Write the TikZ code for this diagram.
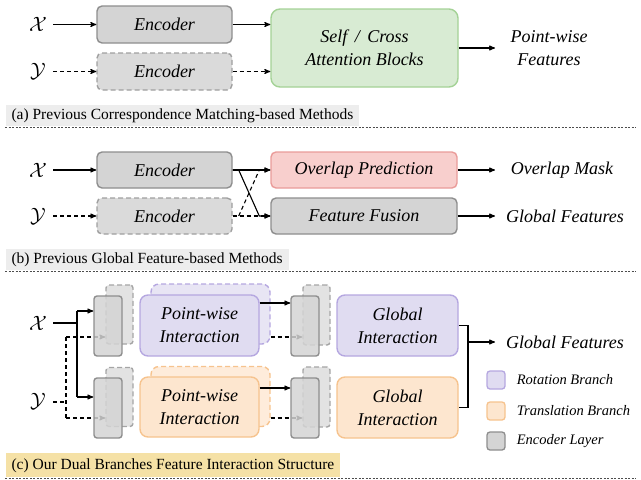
\documentclass[tikz,border=0pt]{standalone}
\usepackage{amsmath,amssymb}
\usepackage{fontspec}
\setmainfont{Liberation Serif}
\usepackage{xcolor}
\usepackage{tikz}
\usetikzlibrary{arrows}

\definecolor{encfill}{HTML}{D4D4D4}
\definecolor{encline}{HTML}{8E8E8E}
\definecolor{attnfill}{HTML}{D8EBD3}
\definecolor{attnline}{HTML}{A4D296}
\definecolor{ovlfill}{HTML}{F8CFCD}
\definecolor{ovlline}{HTML}{EA9C9A}
\definecolor{rotfill}{HTML}{E0DCF1}
\definecolor{rotline}{HTML}{B5A7E0}
\definecolor{trafill}{HTML}{FDE6CF}
\definecolor{traline}{HTML}{F6C38E}
\definecolor{capgray}{HTML}{EDEDED}
\definecolor{capyellow}{HTML}{F5E1A6}

\newcommand{\boxfont}{\fontsize{18}{23}\selectfont\itshape}
\newcommand{\capfont}{\fontsize{15.5}{17}\selectfont}
\newcommand{\legfont}{\fontsize{14.5}{16}\selectfont\itshape}
\newcommand{\symfont}{\fontsize{22}{24}\selectfont}

\begin{document}
\begin{tikzpicture}[x=1pt, y=-1pt, ->, >=stealth', line width=1.1pt]

	\tikzstyle{encbox}=[draw=encline, fill=encfill, rounded corners=5pt, line width=1.4pt, minimum width=135pt, minimum height=37pt, font=\boxfont, align=center]
	\tikzstyle{dencbox}=[encbox, dash pattern=on 5pt off 3pt, draw=encline!85, fill=encfill!85]
	\tikzstyle{bigbox}=[encbox, minimum width=186pt]
	\tikzstyle{layfront}=[draw=encline, fill=encfill, fill opacity=0.85, rounded corners=3pt, line width=1.4pt, minimum width=28pt, minimum height=60pt]
	\tikzstyle{layback}=[layfront, dash pattern=on 5pt off 3pt, draw=encline!80, fill=encfill!80]
	\tikzstyle{pwbox}=[rounded corners=8pt, line width=1.4pt, minimum width=119pt, minimum height=61pt, font=\boxfont, align=center]
	\tikzstyle{glbox}=[pwbox, minimum width=121pt]
	\tikzstyle{capbox}=[anchor=west, inner xsep=6pt, minimum height=21pt, text height=11pt, text depth=3pt, font=\capfont]
	\tikzstyle{legsq}=[rounded corners=3pt, line width=1.3pt, minimum size=18pt]
	\tikzstyle{legtxt}=[anchor=west, font=\legfont]
	\tikzstyle{outtxt}=[font=\boxfont, align=center]
	\tikzstyle{sep}=[-, draw=black!70, line width=0.6pt, dash pattern=on 2pt off 1.5pt]
	\tikzstyle{dline}=[dash pattern=on 4pt off 3pt]

	\useasboundingbox (0,0) rectangle (641,480);

	% (a) correspondence matching
	\node[font=\symfont] (xa) at (38,24) {$\mathcal{X}$};
	\node[font=\symfont] (ya) at (38,71) {$\mathcal{Y}$};
	\node[encbox] (encA1) at (164.5,24.5) {Encoder};
	\node[dencbox] (encA2) at (164.5,71.5) {Encoder};
	\node[encbox, draw=attnline, fill=attnfill, minimum width=187pt, minimum height=78pt, rounded corners=9pt] (attn) at (364.5,48) {Self \,/\, Cross\\Attention Blocks};
	\node[outtxt] (outA) at (549,48) {Point-wise\\Features};

	\draw (53,0 |- encA1) -- (encA1.west);
	\draw[dline] (53,0 |- encA2) -- (encA2.west);
	\draw (encA1.east) -- (encA1.east -| attn.west);
	\draw[dline] (encA2.east) -- (encA2.east -| attn.west);
	\draw (attn.east) -- (outA.west -| 495,0);

	\node[capbox, fill=capgray] (capA) at (5,115) {(a) Previous Correspondence Matching-based Methods};
	\draw[sep] (5,127) -- (636,127);

	% (b) global feature
	\node[font=\symfont] (xb) at (38,170) {$\mathcal{X}$};
	\node[font=\symfont] (yb) at (38,216) {$\mathcal{Y}$};
	\node[encbox, minimum height=36pt] (encB1) at (164.5,170) {Encoder};
	\node[dencbox, minimum height=36pt] (encB2) at (164.5,216) {Encoder};
	\node[bigbox, minimum height=36pt, draw=ovlline, fill=ovlfill] (ovl) at (364,170) {Overlap Prediction};
	\node[bigbox, minimum height=36pt] (fus) at (364,216) {Feature Fusion};
	\node[outtxt] (outB1) at (562,170) {Overlap Mask};
	\node[outtxt] (outB2) at (565,216) {Global Features};

	\draw (53,0 |- encB1) -- (encB1.west);
	\draw[dline] (53,0 |- encB2) -- (encB2.west);
	\draw (encB1.east) -- (ovl.west);
	\draw (encB1.east) -- ++(6,0) -- ([xshift=-11pt]fus.west) -- (fus.west);
	\draw[dline] (encB2.east) -- (fus.west);
	\draw[dline] (encB2.east) ++(6,0) -- ([xshift=-11pt]ovl.west) -- (ovl.west);
	\draw (ovl.east) -- (ovl.east -| 495,0);
	\draw (fus.east) -- (fus.east -| 495,0);

	\node[capbox, fill=capgray] (capB) at (5,259) {(b) Previous Global Feature-based Methods};
	\draw[sep] (5,271) -- (636,271);

	% (c) dual branches
	\node[font=\symfont] (xc) at (38,323) {$\mathcal{X}$};
	\node[font=\symfont] (yc) at (38,401) {$\mathcal{Y}$};
	\coordinate (xsplit) at (77,323);
	\coordinate (xtop) at (77,311);
	\coordinate (xbot) at (77,397);
	\coordinate (ysplit) at (66,402);
	\coordinate (ytop) at (66,337);
	\coordinate (ybot) at (66,418);

	% back layers
	\node[layback, minimum width=27pt, minimum height=59pt] (l1b) at (119.5,314.5) {};
	\node[layback, minimum width=27pt, minimum height=59pt] (l2b) at (119.5,397) {};
	\node[layback, minimum width=27pt, minimum height=60pt] (l3b) at (316.5,315) {};
	\node[layback, minimum width=27pt, minimum height=60pt] (l4b) at (316.5,397) {};
	\node[pwbox, draw=rotline, fill=rotfill!75, dash pattern=on 5pt off 3pt, minimum height=60pt] (pw1b) at (210.5,314) {};
	\node[pwbox, draw=traline, fill=trafill!75, dash pattern=on 5pt off 3pt, minimum height=60pt] (pw2b) at (210.5,396.5) {};

	% dashed inputs
	\draw[-, dline] (53,0 |- ysplit) -- (ysplit);
	\draw[-, dline] (ytop) -- (ybot);
	\draw[dline] (ytop) -- (ytop -| l1b.west);
	\draw[dline] (ybot) -- (ybot -| l2b.west);
	\draw[dline] (pw1b.east |- ytop) -- (ytop -| l3b.west);
	\draw[dline] (pw2b.east |- ybot) -- (ybot -| l4b.west);

	% front layers
	\node[layfront] (l1f) at (108,326) {};
	\node[layfront] (l2f) at (108,408) {};
	\node[layfront] (l3f) at (305,326) {};
	\node[layfront] (l4f) at (305,408) {};
	\node[pwbox, draw=rotline, fill=rotfill] (pw1) at (199.5,325.5) {Point-wise\\Interaction};
	\node[pwbox, draw=traline, fill=trafill, minimum height=60pt] (pw2) at (199.5,407) {Point-wise\\Interaction};
	\node[glbox, draw=rotline, fill=rotfill] (gl1) at (397.5,325.5) {Global\\Interaction};
	\node[glbox, draw=traline, fill=trafill] (gl2) at (397.5,407.5) {Global\\Interaction};

	% solid inputs
	\draw[-] (53,0 |- xsplit) -- (xsplit);
	\draw[-] (xtop) -- (xbot);
	\draw (xtop) -- (xtop -| l1f.west);
	\draw (xbot) -- (xbot -| l2f.west);
	\draw (pw1.east |- 0,303) -- (l3f.west |- 0,303);
	\draw (pw2.east |- 0,388) -- (l4f.west |- 0,388);

	% merge
	\coordinate (merge) at (468,342);
	\draw[-] (gl1.east) -| (merge) |- (gl2.east);
	\draw (merge) -- (495,342);
	\node[outtxt] (outC) at (565,342) {Global Features};

	% legend
	\node[legsq, draw=rotline, fill=rotfill] (lrot) at (496,380) {};
	\node[legsq, draw=traline, fill=trafill] (ltra) at (496,411) {};
	\node[legsq, draw=encline, fill=encfill] (lenc) at (496,441) {};
	\node[legtxt] at (513,380) {Rotation Branch};
	\node[legtxt] at (513,411) {Translation Branch};
	\node[legtxt] at (513,441) {Encoder Layer};

	\node[capbox, fill=capyellow, minimum height=24pt] (capC) at (5,465) {(c) Our Dual Branches Feature Interaction Structure};
	\draw[sep] (5,478) -- (636,478);

\end{tikzpicture}
\end{document}
